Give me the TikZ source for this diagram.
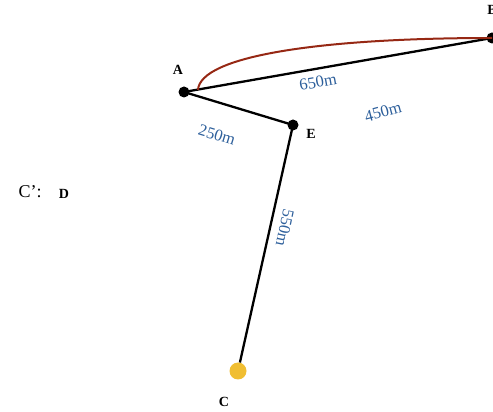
\documentclass[tikz,border=0pt]{standalone}
\usepackage{fontspec}
\setmainfont{Liberation Serif}
\usetikzlibrary{positioning}
\definecolor{distblue}{RGB}{45,95,155}
\definecolor{routered}{RGB}{150,40,20}
\definecolor{pinyellow}{RGB}{240,190,50}

\begin{document}
\begin{tikzpicture}[x=1pt,y=1pt,
  dot/.style={circle,fill=black,inner sep=0pt,minimum size=11pt},
  pt/.style={font=\fontsize{14}{16}\selectfont\bfseries,inner sep=1pt},
  dist/.style={text=distblue,font=\fontsize{16.5}{19}\selectfont,inner sep=1pt}]
\useasboundingbox (0,0) rectangle (493,412);
\node (A) [dot] at (184,320) {};
\node (B) [dot] at (492,374) {};
\node (E) [dot] at (293,287) {};
\node (C) [dot,fill=pinyellow,minimum size=17pt] at (238,41) {};
\node (la) [pt] at (178,342) {A};
\node (lb) [pt] at (492,402) {B};
\node (le) [pt] at (311,278) {E};
\node (lc) [pt] at (224,10) {C};
\node (ld) [pt] at (64,218) {D};
\node (cp) [font=\fontsize{18}{21}\selectfont,inner sep=1pt] at (30,220) {C’:};
\draw[line width=2.3pt] (A.center) -- (B.center);
\draw[line width=2.3pt] (A.center) -- (E.center);
\draw[line width=2.3pt] (E.center) -- (C);
\coordinate (r0) at (198,322);
\draw[routered,line width=2pt] (r0) .. controls (200,356) and (320,374) .. (B.center);
\node [dist,rotate=10] at (318,330) {650m};
\node [dist,rotate=15] at (383,300) {450m};
\node [dist,rotate=-17] at (217,277) {250m};
\node [dist,rotate=-102] at (285,184) {550m};
\end{tikzpicture}
\end{document}
